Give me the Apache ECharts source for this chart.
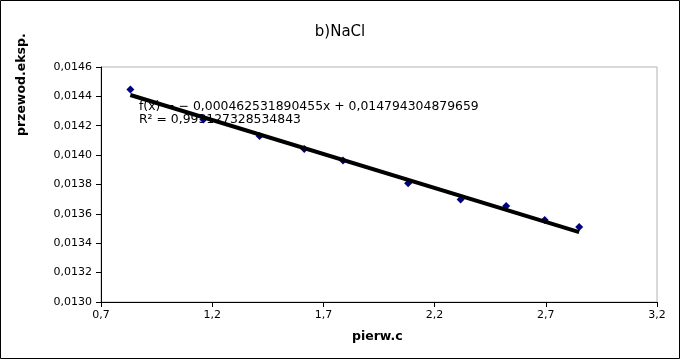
<!DOCTYPE html>
<html>
<head>
<meta charset="utf-8">
<script src="https://cdn.jsdelivr.net/npm/echarts@6/dist/echarts.min.js"></script>
<style>html,body{margin:0;padding:0;background:#fff}#c{width:680px;height:359px}</style>
</head>
<body>
<div id="c"></div>
<script>
const xValues = [0.832, 1.160, 1.413, 1.614, 1.788, 2.081, 2.317, 2.522, 2.695, 2.850];
const yValues = [0.014446, 0.014242, 0.014130, 0.014042, 0.013963, 0.013809, 0.013698, 0.013653, 0.013558, 0.013510];
const xTicks = [0.7, 1.2, 1.7, 2.2, 2.7, 3.2];
const yTicks = [0.0130, 0.0132, 0.0134, 0.0136, 0.0138, 0.0140, 0.0142, 0.0144, 0.0146];
const slope = -0.000462531890455;
const intercept = 0.014794304879659;
const eqText = 'f(x) = − 0,000462531890455x + 0,014794304879659';
const r2Text = 'R² = 0,993127328534843';

const points = xValues.map((x, i) => [x, yValues[i]]);
const xMin = Math.min(...xValues), xMax = Math.max(...xValues);
const trend = [[xMin, slope * xMin + intercept], [xMax, slope * xMax + intercept]];
const fmt = (v, d) => v.toFixed(d).replace('.', ',');
const FONT = 'DejaVu Sans';

const chart = echarts.init(document.getElementById('c'), null, {renderer: 'canvas'});
chart.setOption({
  animation: false,
  backgroundColor: '#fff',
  textStyle: {fontFamily: FONT},
  title: {
    text: 'b)NaCl', left: 'center', top: 20,
    textStyle: {fontFamily: FONT, fontSize: 15, fontWeight: 'normal', color: '#000'}
  },
  grid: {left: 101, right: 23, top: 67, bottom: 57, show: true, borderColor: '#b3b3b3', borderWidth: 1, containLabel: false},
  xAxis: {
    type: 'value', min: 0.7, max: 3.2,
    axisLine: {show: true, lineStyle: {color: '#000', width: 1}},
    axisTick: {show: true, length: 5, lineStyle: {color: '#000'}, customValues: xTicks},
    axisLabel: {color: '#000', fontSize: 11, fontFamily: FONT, margin: 8, customValues: xTicks, formatter: v => fmt(v, 1)},
    splitLine: {show: false}
  },
  yAxis: {
    type: 'value', min: 0.0130, max: 0.0146,
    axisLine: {show: true, lineStyle: {color: '#000', width: 1}},
    axisTick: {show: true, length: 5, lineStyle: {color: '#000'}, customValues: yTicks},
    axisLabel: {color: '#000', fontSize: 11, fontFamily: FONT, margin: 9, customValues: yTicks, formatter: v => fmt(v, 4)},
    splitLine: {show: false}
  },
  graphic: [
    {type: 'rect', shape: {x: 0.5, y: 0.5, width: 679, height: 358}, style: {fill: 'none', stroke: '#000', lineWidth: 1}, silent: true, z: 100},
    {type: 'text', left: 139, top: 100, z: 1, style: {text: eqText + '\n' + r2Text, font: '12.4px "DejaVu Sans"', fill: '#000', lineHeight: 13}},
    {type: 'text', left: 352, top: 330, style: {text: 'pierw.c', font: 'bold 12.5px "DejaVu Sans"', fill: '#000'}},
    {type: 'text', x: 15, y: 136, rotation: Math.PI / 2, style: {text: 'przewod.eksp.', font: 'bold 12.5px "DejaVu Sans"', fill: '#000', align: 'left', verticalAlign: 'top'}}
  ],
  series: [
    {
      type: 'scatter', data: points, symbol: 'diamond', symbolSize: 8,
      itemStyle: {color: '#000080', opacity: 1}, z: 2
    },
    {
      type: 'line', data: trend, symbol: 'none', z: 3,
      lineStyle: {color: '#000', width: 4}
    }
  ]
});
</script>
</body>
</html>
